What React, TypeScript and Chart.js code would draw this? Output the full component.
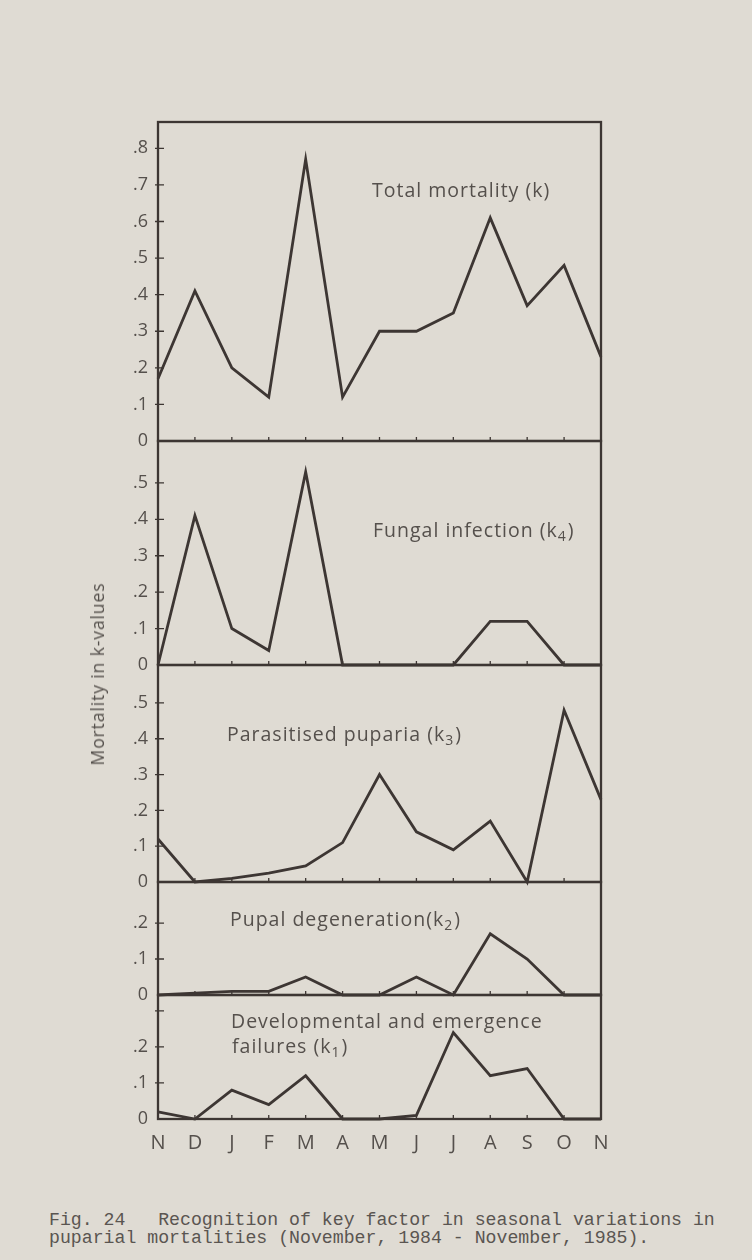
import React, { useEffect, useRef } from "react";
import { Chart, registerables } from "chart.js";

Chart.register(...registerables);

// Month axis, November 1984 – November 1985
const months = ["N", "D", "J", "F", "M", "A", "M", "J", "J", "A", "S", "O", "N"];

// k-values per month for each mortality factor
const totalMortality = [0.17, 0.41, 0.2, 0.12, 0.77, 0.12, 0.3, 0.3, 0.35, 0.61, 0.37, 0.48, 0.23];
const fungalInfection = [0, 0.41, 0.1, 0.04, 0.53, 0, 0, 0, 0, 0.12, 0.12, 0, 0];
const parasitisedPuparia = [0.12, 0, 0.01, 0.025, 0.045, 0.11, 0.3, 0.14, 0.09, 0.17, 0, 0.48, 0.23];
const pupalDegeneration = [0, 0.005, 0.01, 0.01, 0.05, 0, 0, 0.05, 0, 0.17, 0.1, 0, 0];
const developmentalFailures = [0.02, 0, 0.08, 0.04, 0.12, 0, 0, 0.01, 0.24, 0.12, 0.14, 0, 0];

// Tick values for each panel's y axis
const ticksTotal = [0, 0.1, 0.2, 0.3, 0.4, 0.5, 0.6, 0.7, 0.8];
const ticksFungal = [0, 0.1, 0.2, 0.3, 0.4, 0.5];
const ticksParasitised = [0, 0.1, 0.2, 0.3, 0.4, 0.5];
const ticksPupal = [0, 0.1, 0.2];
const ticksDevelopmental = [0, 0.1, 0.2, 0.3];
// ticks drawn without a number in the bottom panel
const unlabelledDevelopmental = [0.3];

const axisTitle = "Mortality in k-values";
const captionLines = [
  "Fig. 24   Recognition of key factor in seasonal variations in",
  "puparial mortalities (November, 1984 - November, 1985).",
];

type Part = { text: string; sub?: boolean };
type PanelText = { dx: number; dy: number; parts: Part[] };

interface PanelSpec {
  top: number;
  bottom: number;
  max: number;
  ticks: number[];
  unlabelled: number[];
  values: number[];
  texts: PanelText[];
  showMonths: boolean;
}

const BG = "#dfdbd3";
const INK = "#3d3633";
const TEXT = "#55504c";
const FONT = "'Open Sans', Lato, sans-serif";

const PLOT_LEFT = 158;
const PLOT_RIGHT = 601;
const CANVAS_LEFT = 40;
const CANVAS_W = 600;
const PAD_V = 16;
const MONTH_AXIS_H = 40;

const panels: PanelSpec[] = [
  {
    top: 122, bottom: 441, max: 0.872, ticks: ticksTotal, unlabelled: [], values: totalMortality, showMonths: false,
    texts: [{ dx: 214, dy: 69, parts: [{ text: "Total mortality (k)" }] }],
  },
  {
    top: 441, bottom: 665, max: 0.615, ticks: ticksFungal, unlabelled: [], values: fungalInfection, showMonths: false,
    texts: [{ dx: 215, dy: 90, parts: [{ text: "Fungal infection (k" }, { text: "4", sub: true }, { text: ")" }] }],
  },
  {
    top: 665, bottom: 882, max: 0.606, ticks: ticksParasitised, unlabelled: [], values: parasitisedPuparia, showMonths: false,
    texts: [{ dx: 69, dy: 70, parts: [{ text: "Parasitised puparia (k" }, { text: "3", sub: true }, { text: ")" }] }],
  },
  {
    top: 882, bottom: 995, max: 0.314, ticks: ticksPupal, unlabelled: [], values: pupalDegeneration, showMonths: false,
    texts: [{ dx: 72, dy: 38, parts: [{ text: "Pupal degeneration(k" }, { text: "2", sub: true }, { text: ")" }] }],
  },
  {
    top: 995, bottom: 1119, max: 0.344, ticks: ticksDevelopmental, unlabelled: unlabelledDevelopmental,
    values: developmentalFailures, showMonths: true,
    texts: [
      { dx: 73, dy: 27, parts: [{ text: "Developmental and emergence" }] },
      { dx: 74, dy: 52, parts: [{ text: "failures (k" }, { text: "1", sub: true }, { text: ")" }] },
    ],
  },
];

function formatTick(v: number, unlabelled: number[]): string {
  if (unlabelled.some((u) => Math.abs(u - v) < 1e-6)) return "";
  if (v === 0) return "0";
  return "." + Math.round(v * 10);
}

function Panel({ spec }: { spec: PanelSpec }) {
  const ref = useRef<HTMLCanvasElement>(null);
  const extra = spec.showMonths ? MONTH_AXIS_H : 0;
  const height = spec.bottom - spec.top + 2 * PAD_V + extra;

  useEffect(() => {
    const framePlugin = {
      id: "panelFrame",
      beforeDatasetsDraw(chart: any) {
        const { ctx, chartArea: a, scales } = chart;
        ctx.save();
        ctx.strokeStyle = INK;
        ctx.lineWidth = 2.3;
        ctx.strokeRect(a.left, a.top, a.right - a.left, a.bottom - a.top);
        ctx.lineWidth = 1.3;
        ctx.beginPath();
        const ys = scales.y;
        spec.ticks.forEach((v) => {
          const py = ys.getPixelForValue(v);
          if (py < a.bottom - 2) {
            ctx.moveTo(a.left - 3, py);
            ctx.lineTo(a.left + 6, py);
          }
        });
        const xs = scales.x;
        for (let i = 1; i < months.length - 1; i++) {
          const px = xs.getPixelForValue(i);
          ctx.moveTo(px, a.bottom);
          ctx.lineTo(px, a.bottom - 4);
        }
        ctx.stroke();
        ctx.restore();
      },
      afterDraw(chart: any) {
        const { ctx, chartArea: a } = chart;
        ctx.save();
        ctx.fillStyle = TEXT;
        ctx.textBaseline = "middle";
        ctx.textAlign = "left";
        (ctx as any).letterSpacing = "1px";
        spec.texts.forEach((t) => {
          let x = a.left + t.dx;
          const y = a.top + t.dy;
          t.parts.forEach((p) => {
            ctx.font = p.sub ? `14px ${FONT}` : `19.5px ${FONT}`;
            const yy = p.sub ? y + 6 : y;
            ctx.fillText(p.text, x, yy);
            x += ctx.measureText(p.text).width + (p.sub ? 1 : 0);
          });
        });
        ctx.restore();
      },
    };

    const chart = new Chart(ref.current as HTMLCanvasElement, {
      type: "line",
      data: {
        labels: months,
        datasets: [
          {
            data: spec.values,
            borderColor: INK,
            borderWidth: 2.8,
            pointRadius: 0,
            tension: 0,
            fill: false,
            clip: false as any,
          },
        ],
      },
      options: {
        animation: false,
        responsive: false,
        maintainAspectRatio: false,
        devicePixelRatio: 1,
        layout: {
          padding: { left: 0, right: CANVAS_LEFT + CANVAS_W - PLOT_RIGHT, top: PAD_V, bottom: PAD_V },
        },
        plugins: { legend: { display: false }, tooltip: { enabled: false } },
        scales: {
          x: {
            type: "category",
            offset: false,
            display: spec.showMonths,
            grid: { display: false },
            border: { display: false },
            ticks: {
              autoSkip: false,
              maxRotation: 0,
              padding: 4,
              color: TEXT,
              font: { family: FONT, size: 20 },
            },
            afterFit: (s: any) => {
              s.height = spec.showMonths ? MONTH_AXIS_H : 0;
            },
          },
          y: {
            min: 0,
            max: spec.max,
            grid: { display: false },
            border: { display: false },
            afterFit: (s: any) => {
              s.width = PLOT_LEFT - CANVAS_LEFT;
            },
            afterBuildTicks: (s: any) => {
              s.ticks = spec.ticks.map((v) => ({ value: v }));
            },
            ticks: {
              padding: 2,
              color: TEXT,
              font: { family: FONT, size: 18 },
              callback: (v: any) => formatTick(Number(v), spec.unlabelled),
            },
          },
        },
      },
      plugins: [framePlugin],
    });
    return () => chart.destroy();
  }, []);

  return (
    <canvas
      ref={ref}
      width={CANVAS_W}
      height={height}
      style={{ position: "absolute", left: CANVAS_LEFT, top: spec.top - PAD_V, width: CANVAS_W, height }}
    />
  );
}

export default function App() {
  return (
    <div
      style={{
        position: "absolute",
        left: 0,
        top: 0,
        width: 752,
        height: 1260,
        background: BG,
        overflow: "hidden",
      }}
    >
      {panels.map((p, i) => (
        <Panel key={i} spec={p} />
      ))}
      <div
        style={{
          position: "absolute",
          left: 97,
          top: 674,
          transform: "translate(-50%, -50%) rotate(-90deg)",
          font: `17.5px ${FONT}`,
          letterSpacing: "0.9px",
          color: TEXT,
          whiteSpace: "nowrap",
        }}
      >
        {axisTitle}
      </div>
      <div
        style={{
          position: "absolute",
          left: 49,
          top: 1211,
          font: "18.2px 'Liberation Mono', monospace",
          lineHeight: "18px",
          color: "#5a5551",
          whiteSpace: "pre",
        }}
      >
        {captionLines.map((l, i) => (
          <div key={i}>{l}</div>
        ))}
      </div>
    </div>
  );
}
